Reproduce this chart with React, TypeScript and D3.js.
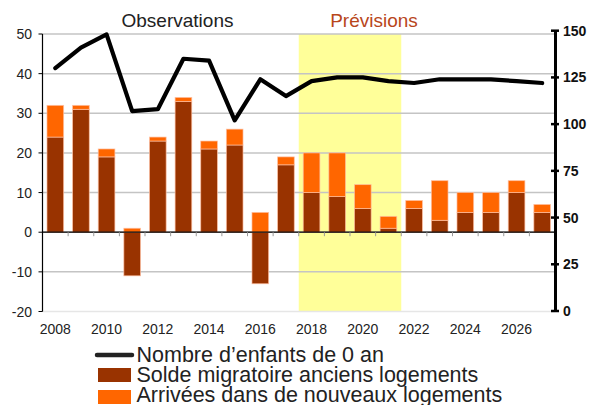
import React from "react";
import * as d3 from "d3";

const years = [2008, 2009, 2010, 2011, 2012, 2013, 2014, 2015, 2016, 2017, 2018, 2019, 2020, 2021, 2022, 2023, 2024, 2025, 2026, 2027];
const solde = [24, 31, 19, -11, 23, 33, 21, 22, -13, 17, 10, 9, 6, 1, 6, 3, 5, 5, 10, 5];
const arrivees = [8, 1, 2, 1, 1, 1, 2, 4, 5, 2, 10, 11, 6, 3, 2, 10, 5, 5, 3, 2];
const enfants = [130, 141, 148, 107, 108, 135, 134, 102, 124, 115, 123, 125, 125, 123, 122, 124, 124, 124, 123, 122];
const leftTicks = [-20, -10, 0, 10, 20, 30, 40, 50];
const rightTicks = [0, 25, 50, 75, 100, 125, 150];
const labelYears = [2008, 2010, 2012, 2014, 2016, 2018, 2020, 2022, 2024, 2026];
const forecastYears = [2018, 2021];

const W = 596, H = 405;
const font = "Liberation Sans, Arial, sans-serif";

export default function App() {
  const x = d3.scaleBand<number>().domain(years).range([42.5, 555]).paddingInner(0.35).paddingOuter(0.175);
  const yL = d3.scaleLinear().domain([-20, 50]).range([311.5, 34]);
  const yR = d3.scaleLinear().domain([0, 150]).range([311, 30.7]);
  const step = x.step();
  const bx = (yr: number) => 42.5 + years.indexOf(yr) * step;
  const line = d3.line<number>().x((_, i) => x(years[i])! + x.bandwidth() / 2).y(d => yR(d)).curve(d3.curveLinear);
  const barStroke = "rgba(255,190,160,0.85)";
  return (
    <svg width={W} height={H} style={{ position: "absolute", left: 0, top: 0 }} fontFamily={font}>
      <rect x={0} y={0} width={W} height={H} fill="#fff" />
      {/* forecast shading */}
      <rect x={bx(forecastYears[0])} y={yL(50)} width={bx(forecastYears[1]) + step - bx(forecastYears[0])} height={yL(-20) - yL(50)} fill="#ffff99" />
      {/* grid */}
      {leftTicks.map(t => (
        <line key={t} x1={42.5} x2={555} y1={yL(t)} y2={yL(t)} stroke={t === -20 ? "#e6e6e6" : "#c4c4c4"} strokeWidth={1.5} />
      ))}
      {/* bars */}
      {years.map((yr, i) => {
        const s = solde[i], a = arrivees[i];
        const bxp = x(yr)!, bw = x.bandwidth();
        const aBase = s > 0 ? s : 0;
        return (
          <g key={yr}>
            <rect x={bxp} y={yL(Math.max(s, 0))} width={bw} height={Math.abs(yL(s) - yL(0))} fill="#993300" stroke={barStroke} strokeWidth={0.8} />
            <rect x={bxp} y={yL(aBase + a)} width={bw} height={yL(aBase) - yL(aBase + a)} fill="#ff6600" stroke={barStroke} strokeWidth={0.8} />
          </g>
        );
      })}
      {/* zero line */}
      <line x1={42.5} x2={555} y1={yL(0)} y2={yL(0)} stroke="#000" strokeWidth={1.2} />
      {years.slice(1).map(yr => (
        <line key={yr} x1={bx(yr)} x2={bx(yr)} y1={yL(0)} y2={yL(0) + 4} stroke="#999" strokeWidth={1} />
      ))}
      {/* line */}
      <path d={line(enfants)!} fill="none" stroke="#000" strokeWidth={4.2} strokeLinejoin="round" strokeLinecap="round" />
      {/* left axis */}
      <line x1={42.5} x2={42.5} y1={yL(50)} y2={yL(-20)} stroke="#000" strokeWidth={1.2} />
      {leftTicks.map(t => (
        <g key={t}>
          <line x1={38.5} x2={42.5} y1={yL(t)} y2={yL(t)} stroke="#000" strokeWidth={1} />
          <text x={32} y={yL(t) + 5} textAnchor="end" fontSize={14} fill="#222">{t}</text>
        </g>
      ))}
      {/* right axis */}
      <line x1={555.5} x2={555.5} y1={yR(150)} y2={yR(0)} stroke="#000" strokeWidth={3} />
      {rightTicks.map(t => (
        <g key={t}>
          <line x1={551} x2={559} y1={yR(t)} y2={yR(t)} stroke="#000" strokeWidth={2.5} />
          <text x={563} y={yR(t) + 5} fontSize={14} fontWeight="bold" fill="#111">{t}</text>
        </g>
      ))}
      {/* x labels */}
      {labelYears.map(yr => (
        <text key={yr} x={x(yr)! + x.bandwidth() / 2} y={334} textAnchor="middle" fontSize={14} fill="#222">{yr}</text>
      ))}
      {/* period titles */}
      <text x={177.5} y={27} textAnchor="middle" fontSize={19} fill="#222">Observations</text>
      <text x={374} y={27} textAnchor="middle" fontSize={19} fill="#b8461b">Prévisions</text>
      {/* legend */}
      <line x1={97} x2={132} y1={355} y2={355} stroke="#222" strokeWidth={4.5} strokeLinecap="round" />
      <text x={136.5} y={362} fontSize={21.5} fill="#222">Nombre d’enfants de 0 an</text>
      <rect x={98} y={368} width={33} height={14} fill="#993300" />
      <text x={136.5} y={382} fontSize={21.5} fill="#222">Solde migratoire anciens logements</text>
      <rect x={98} y={390} width={33} height={14} fill="#ff6600" />
      <text x={136.5} y={402} fontSize={21.5} fill="#222">Arrivées dans de nouveaux logements</text>
    </svg>
  );
}
